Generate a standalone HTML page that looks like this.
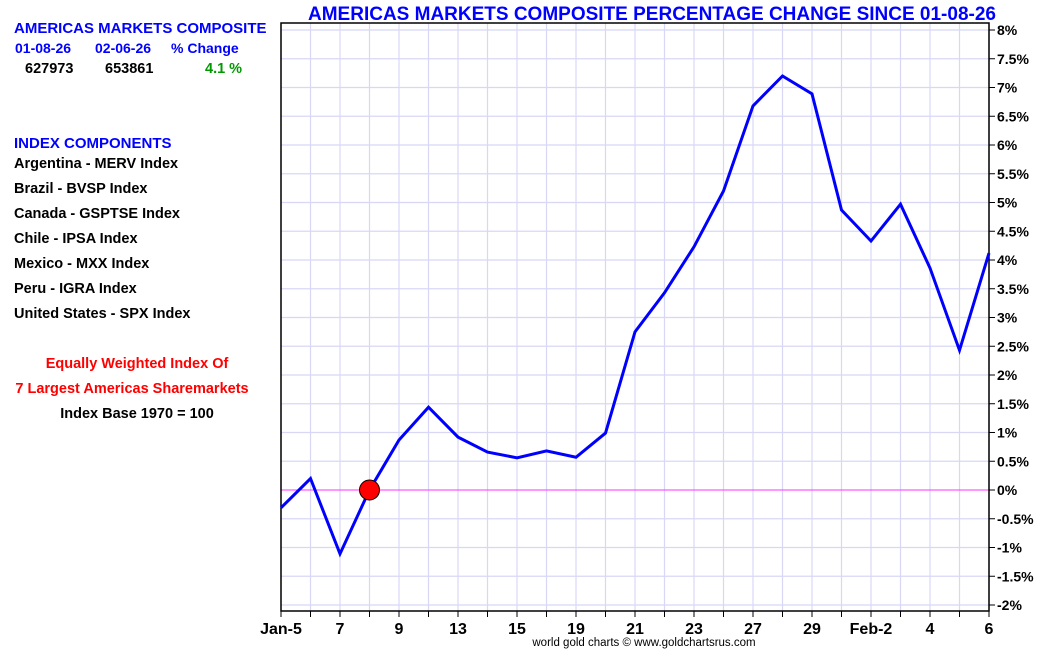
<!DOCTYPE html>
<html><head><meta charset="utf-8"><style>
body{margin:0;background:#fff;font-family:"Liberation Sans",sans-serif;}
svg text{font-family:"Liberation Sans",sans-serif;font-weight:bold;}
</style></head><body>
<svg id="chart" width="1050" height="650">
<g id="info">
<text x="14" y="33" fill="#0000ff" font-size="15">AMERICAS MARKETS COMPOSITE</text>
<text x="15" y="53" fill="#0000ff" font-size="14">01-08-26</text>
<text x="95" y="53" fill="#0000ff" font-size="14">02-06-26</text>
<text x="171" y="53" fill="#0000ff" font-size="14">% Change</text>
<text x="25" y="73" fill="#000" font-size="14.5">627973</text>
<text x="105" y="73" fill="#000" font-size="14.5">653861</text>
<text x="205" y="73" fill="#009900" font-size="14.5">4.1 %</text>
<text x="14" y="148" fill="#0000ff" font-size="15">INDEX COMPONENTS</text>
<text x="14" y="168" font-size="14.5">Argentina - MERV Index</text>
<text x="14" y="193" font-size="14.5">Brazil - BVSP Index</text>
<text x="14" y="218" font-size="14.5">Canada - GSPTSE Index</text>
<text x="14" y="243" font-size="14.5">Chile - IPSA Index</text>
<text x="14" y="268" font-size="14.5">Mexico - MXX Index</text>
<text x="14" y="293" font-size="14.5">Peru - IGRA Index</text>
<text x="14" y="318" font-size="14.5">United States - SPX Index</text>
<text x="137" y="368" fill="#ff0000" font-size="14.5" text-anchor="middle">Equally Weighted Index Of</text>
<text x="132" y="393" fill="#ff0000" font-size="14.5" text-anchor="middle">7 Largest Americas Sharemarkets</text>
<text x="137" y="418" font-size="14.5" text-anchor="middle">Index Base 1970 = 100</text>
</g>
<text x="652" y="20" fill="#0000ff" font-size="19" text-anchor="middle">AMERICAS MARKETS COMPOSITE PERCENTAGE CHANGE SINCE 01-08-26</text>
<text x="644" y="646" fill="#000" font-size="11.5" style="font-weight:normal" text-anchor="middle">world gold charts © www.goldchartsrus.com</text>
<g id="grid"></g><g id="axes"></g><g id="series"></g>
</svg>
<script>
const categories=["Jan-5","6","7","8","9","12","13","14","15","16","19","20","21","22","23","26","27","28","29","30","Feb-2","3","4","5","6"];
const tickLabels=["Jan-5","","7","","9","","13","","15","","19","","21","","23","","27","","29","","Feb-2","","4","","6"];
const values=[-0.31,0.2,-1.11,0,0.87,1.44,0.92,0.66,0.56,0.68,0.57,0.99,2.75,3.43,4.23,5.2,6.68,7.2,6.89,4.87,4.33,4.97,3.86,2.43,4.12];
const yTicks=[-2,-1.5,-1,-0.5,0,0.5,1,1.5,2,2.5,3,3.5,4,4.5,5,5.5,6,6.5,7,7.5,8];
const markerIndex=3;
const NS="http://www.w3.org/2000/svg";
const L=281,R=989,T=23,B=611;
const x=i=>L+(R-L)*i/(categories.length-1);
const y=v=>490-v*57.5;
function mk(t,a,p){const e=document.createElementNS(NS,t);for(const k in a)e.setAttribute(k,a[k]);p.appendChild(e);return e;}
const g=document.getElementById('grid'),ax=document.getElementById('axes'),s=document.getElementById('series');
categories.forEach((c,i)=>{
 const l=mk('line',{x1:x(i),x2:x(i),y1:T,y2:B,stroke:'#d8d8f6','stroke-width':1.2},g);
 
 
 const t=mk('line',{x1:x(i),x2:x(i),y1:B,y2:B+6,stroke:'#000'},ax);
 
 
 if(tickLabels[i]){const tx=mk('text',{x:x(i),y:634,'font-size':16,'text-anchor':'middle'},ax);tx.textContent=tickLabels[i];
 
 }
});
yTicks.forEach(v=>{
 const l=mk('line',{x1:L,x2:R,y1:y(v),y2:y(v),stroke:v===0?'#ff33ff':'#d8d8f6','stroke-width':v===0?1:1.2},g);
 
 
 const t=mk('line',{x1:R,x2:R+6,y1:y(v),y2:y(v),stroke:'#000'},ax);
 
 
 const tx=mk('text',{x:R+8,y:y(v)+5,'font-size':14},ax);tx.textContent=v+'%';
 
 
});
const fr=mk('rect',{x:L,y:T,width:R-L,height:B-T,fill:'none',stroke:'#000','stroke-width':1.5},ax);


const line=mk('polyline',{points:values.map((v,i)=>x(i)+','+y(v)).join(' '),fill:'none',stroke:'#0000ff','stroke-width':3,'stroke-linejoin':'miter'},s);


const m=mk('circle',{cx:x(markerIndex),cy:y(values[markerIndex]),r:10,fill:'#ff0000',stroke:'#000','stroke-width':1},s);


</script>
</body></html>
